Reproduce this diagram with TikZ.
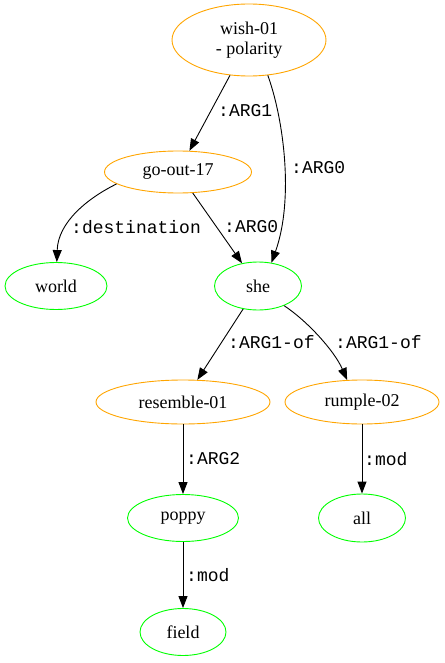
\documentclass[tikz,border=0pt]{standalone}
\usepackage{fontspec}
\setmainfont{Liberation Serif}
\setmonofont{Liberation Mono}
\usetikzlibrary{shapes.geometric,arrows.meta}
\definecolor{conceptcol}{RGB}{255,165,0}
\definecolor{constcol}{RGB}{0,255,0}
\begin{document}
\begin{tikzpicture}[x=1pt,y=-1pt,
  amrnode/.style={ellipse,line width=0.9pt,inner sep=0pt,align=center,
    font=\fontsize{18}{20}\selectfont},
  concept/.style={amrnode,draw=conceptcol},
  constant/.style={amrnode,draw=constcol},
  rel/.style={anchor=west,inner sep=0pt,font=\ttfamily\fontsize{18}{20}\selectfont},
  edge/.style={line width=0.9pt,-{Triangle[length=12pt,width=9pt]}}
]
\useasboundingbox (0,0) rectangle (444,663);

% concepts and constants
\node[concept,minimum width=154pt,minimum height=72pt] (wish) at (249,40) {wish-01\\- polarity};
\node[concept,minimum width=147pt,minimum height=42pt] (goout) at (178,172) {go-out-17};
\node[constant,minimum width=102pt,minimum height=47pt] (world) at (56,286) {world};
\node[constant,minimum width=87pt,minimum height=48pt] (she) at (258,286) {she};
\node[concept,minimum width=174pt,minimum height=44pt] (resemble) at (183,402) {resemble-01};
\node[concept,minimum width=154pt,minimum height=44pt] (rumple) at (362,402) {rumple-02};
\node[constant,minimum width=111pt,minimum height=47pt] (poppy) at (183,518) {poppy};
\node[constant,minimum width=87pt,minimum height=48pt] (all) at (362,518) {all};
\node[constant,minimum width=86pt,minimum height=47pt] (field) at (183,632) {field};

% relations
\draw[edge] (wish) -- (goout);
\draw[edge] (wish.-62) .. controls (284,120) and (294,200) .. (she.60);
\draw[edge] (goout.-169) .. controls (88,198) and (58,222) .. (world.88);
\draw[edge] (goout) -- (she);
\draw[edge] (she) -- (resemble);
\draw[edge] (she.-37) .. controls (306,320) and (334,350) .. (rumple.124);
\draw[edge] (resemble) -- (poppy);
\draw[edge] (rumple) -- (all);
\draw[edge] (poppy) -- (field);

% relation labels
\node[rel] (l1) at (218,111) {:ARG1};
\node[rel] (l2) at (291,168) {:ARG0};
\node[rel] (l3) at (71,227) {:destination};
\node[rel] (l4) at (224,227) {:ARG0};
\node[rel] (l5) at (228,342) {:ARG1-of};
\node[rel] (l6) at (335,342) {:ARG1-of};
\node[rel] (l7) at (186,459) {:ARG2};
\node[rel] (l8) at (364,459) {:mod};
\node[rel] (l9) at (186,575) {:mod};
\end{tikzpicture}
\end{document}
